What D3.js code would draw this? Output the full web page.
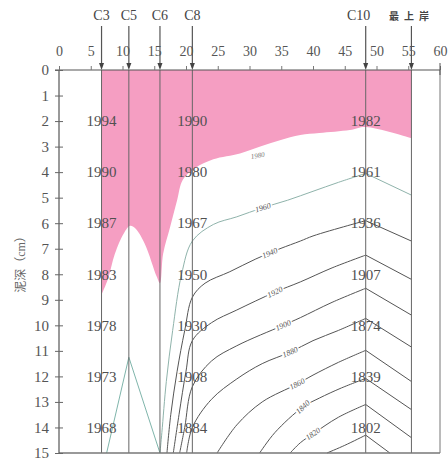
<!DOCTYPE html>
<html>
<head>
<meta charset="utf-8">
<script src="https://cdn.jsdelivr.net/npm/d3@7/dist/d3.min.js"></script>
<style>
  body { margin: 0; background: #fff; }
  text { font-family: "Liberation Serif", "Times New Roman", "Noto Sans CJK SC", serif; }
</style>
</head>
<body>
<div id="chart"></div>
<script>
// distance (top axis) and depth (left axis) ticks
const distTicks = [0, 5, 10, 15, 20, 25, 30, 35, 40, 45, 50, 55, 60];
const depthTicks = [0, 1, 2, 3, 4, 5, 6, 7, 8, 9, 10, 11, 12, 13, 14, 15];

// core sites along the section
const coreNames = ["C3", "C5", "C6", "C8", "C10", "最上岸"];
const corePos = [6.7, 11, 15.9, 21, 48.3, 55.5];

// dated depths in three cores
const dateDepths = [2, 4, 6, 8, 10, 12, 14];
const yearsC3 = [1994, 1990, 1987, 1983, 1978, 1973, 1968];
const yearsC8 = [1990, 1980, 1967, 1950, 1930, 1908, 1884];
const yearsC10 = [1982, 1961, 1936, 1907, 1874, 1839, 1802];

// post-1980 sediment body (boundary, from shore back to C3)
const pinkBoundary = [[55.5, 2.67], [48.3, 2.23], [45.8, 2.35], [41, 2.47], [38, 2.55], [34.8, 2.75],
  [31.7, 3.0], [28.5, 3.27], [24.3, 3.5], [21.4, 3.85], [19.5, 4.3], [18.6, 5.1], [17.5, 6.15],
  [16.4, 7.2], [15.9, 8.35], [15.4, 8.1], [13.5, 6.8], [12, 6.2], [11.2, 6.1], [10.2, 6.4],
  [8.8, 7.2], [7.7, 8.2], [6.7, 8.8]];

// isochrones: left part up to C10, then straight to the shore
const contourYears = [1960, 1940, 1920, 1900, 1880, 1860, 1840, 1820, 1800];
const iso1960 = [[15.9, 15], [16.2, 14.2], [16.9, 12.2], [17.9, 10.2], [19.3, 8.0], [21, 6.7], [24.3, 6.05], [28, 5.75], [32, 5.4], [36, 5.1], [40, 4.75], [44, 4.4], [48.3, 4.05], [55.5, 4.9]];
const iso1940 = [[17.0, 15], [17.6, 13.5], [18.6, 11.8], [19.8, 10.2], [21, 8.9], [23, 8.35], [26.9, 7.9], [31, 7.4], [34.8, 7.0], [38, 6.7], [40, 6.5], [45.4, 6.1], [48.3, 5.9], [55.5, 6.7]];
const iso1920 = [[18.0, 15], [18.9, 13.5], [20, 11.8], [21, 10.6], [24, 9.9], [28, 9.4], [34, 8.7], [38, 8.3], [43, 7.75], [48.3, 7.25], [55.5, 8.2]];
const iso1900 = [[19.0, 15], [19.8, 14], [21, 12.4], [24, 11.4], [28, 10.8], [35.3, 10.0], [38, 9.7], [43, 9.1], [48.3, 8.55], [55.5, 9.6]];
const iso1880 = [[20.1, 15], [21, 14.0], [24, 12.9], [28, 12.1], [32, 11.5], [36.4, 11.05], [40, 10.6], [44, 10.2], [48.3, 9.73], [55.5, 10.85]];
const iso1860 = [[24.9, 15], [28, 13.9], [32, 13.0], [37.5, 12.3], [40, 11.95], [44, 11.45], [48.3, 10.98], [55.5, 12.2]];
const iso1840 = [[31.6, 15], [34, 14.2], [38.4, 13.2], [41, 12.85], [44.5, 12.45], [48.3, 12.08], [55.5, 13.3]];
const iso1820 = [[36.4, 15], [38, 14.6], [40, 14.25], [44, 13.6], [48.3, 13.1], [55.5, 14.4]];
const iso1800 = [[42.2, 15], [45, 14.7], [48.3, 14.3], [52.1, 15]];
const isoLines = [iso1960, iso1940, iso1920, iso1900, iso1880, iso1860, iso1840, iso1820, iso1800];
const isoLabelX = [32.1, 33.2, 34, 35.3, 36.4, 37.5, 38.4, 40, null];

// lines fanning from C5
const c5Lines = [[[11, 11.25], [7.5, 15]], [[11, 11.25], [15.9, 15]]];

const width = 448, height = 464;
const x = d3.scaleLinear().domain([0, 60]).range([59, 440]);
const y = d3.scaleLinear().domain([0, 15]).range([70, 453]);

const svg = d3.select("#chart").append("svg")
  .attr("width", width).attr("height", height);

// pink sediment body
const curve = d3.line().x(d => x(d[0])).y(d => y(d[1])).curve(d3.curveCatmullRom.alpha(0.5));
svg.append("path")
  .attr("d", curve(pinkBoundary) + `L${x(6.7)},${y(0)}L${x(55.5)},${y(0)}Z`)
  .attr("fill", "#f59ec2");

// isochrones
const colors = contourYears.map(yr => yr === 1960 ? "#8fb3ab" : "#555");
isoLines.forEach((pts, i) => {
  const leftPts = pts.filter(p => p[0] <= 48.3);
  const rightPts = pts.filter(p => p[0] >= 48.3);
  const g = svg.append("g").attr("fill", "none").attr("stroke", colors[i]).attr("stroke-width", 1);
  g.append("path").attr("d", curve(leftPts));
  g.append("path").attr("d", d3.line().x(d => x(d[0])).y(d => y(d[1]))(rightPts));
});

c5Lines.forEach(pts => {
  svg.append("path")
    .attr("d", d3.line().x(d => x(d[0])).y(d => y(d[1]))(pts))
    .attr("fill", "none").attr("stroke", "#7fb5ab").attr("stroke-width", 1);
});

// core lines
svg.append("g").selectAll("line").data(corePos).join("line")
  .attr("x1", d => x(d)).attr("x2", d => x(d))
  .attr("y1", y(0)).attr("y2", y(15))
  .attr("stroke", "#666").attr("stroke-width", 1);

// isochrone labels
function depthAt(pts, lx) {
  for (let i = 0; i < pts.length - 1; i++) {
    const a = pts[i], b = pts[i + 1];
    if (lx >= a[0] && lx <= b[0]) {
      const t = (lx - a[0]) / (b[0] - a[0]);
      return { d: a[1] + t * (b[1] - a[1]), ang: Math.atan2(y(b[1]) - y(a[1]), x(b[0]) - x(a[0])) * 180 / Math.PI };
    }
  }
  return null;
}
isoLines.forEach((pts, i) => {
  if (isoLabelX[i] == null) return;
  const p = depthAt(pts, isoLabelX[i]);
  svg.append("text")
    .attr("transform", `translate(${x(isoLabelX[i])},${y(p.d)}) rotate(${p.ang})`)
    .attr("text-anchor", "middle").attr("dy", "0.33em")
    .attr("font-size", 8).attr("font-style", "italic")
    .attr("fill", "#555")
    .attr("stroke", "#fff").attr("stroke-width", 3).attr("paint-order", "stroke")
    .text(contourYears[i]);
});
svg.append("text")
  .attr("transform", `translate(${x(31.3)},${y(3.35)}) rotate(-10)`)
  .attr("text-anchor", "middle").attr("dy", "0.33em")
  .attr("font-size", 7).attr("font-style", "italic").attr("fill", "#777")
  .text(1980);

// dated core labels
[[6.7, yearsC3], [21, yearsC8], [48.3, yearsC10]].forEach(([cx, years]) => {
  svg.append("g").selectAll("text").data(years).join("text")
    .attr("x", x(cx)).attr("y", (d, i) => y(dateDepths[i]))
    .attr("dy", "0.35em").attr("text-anchor", "middle")
    .attr("font-size", 15).attr("fill", "#505050")
    .text(d => d);
});

// frame
svg.append("line").attr("x1", x(0)).attr("x2", x(60)).attr("y1", y(15)).attr("y2", y(15))
  .attr("stroke", "#777").attr("stroke-width", 1.5);
svg.append("line").attr("x1", x(60)).attr("x2", x(60)).attr("y1", y(0)).attr("y2", y(15))
  .attr("stroke", "#777").attr("stroke-width", 1);

// top axis
const topAxis = svg.append("g").attr("transform", `translate(0,${y(0)})`)
  .call(d3.axisTop(x).tickValues(distTicks).tickSize(4).tickPadding(10));
topAxis.select(".domain").attr("stroke", "#555").attr("stroke-width", 1.2).attr("d", `M${x(0) - 4},0H${x(60)}`);
topAxis.selectAll(".tick line").attr("stroke", "#777");
topAxis.selectAll(".tick text").attr("font-size", 14).attr("fill", "#555")
  .attr("font-family", "Liberation Serif, serif");
topAxis.append("line").attr("x1", x(60)).attr("x2", x(60)).attr("y1", -7).attr("y2", 5).attr("stroke", "#555");

// left axis
const leftAxis = svg.append("g").attr("transform", `translate(${x(0)},0)`)
  .call(d3.axisLeft(y).tickValues(depthTicks).tickSize(4).tickPadding(6));
leftAxis.select(".domain").attr("stroke", "#555").attr("stroke-width", 1.2).attr("d", `M0,${y(0)}V${y(15)}`);
leftAxis.selectAll(".tick line").attr("stroke", "#666").attr("x2", -4).attr("x1", 4);
leftAxis.selectAll(".tick text").attr("font-size", 15).attr("fill", "#555")
  .attr("font-family", "Liberation Serif, serif");

svg.append("text")
  .attr("transform", `translate(21,${y(7.5)}) rotate(-90)`)
  .attr("text-anchor", "middle").attr("dy", "0.35em")
  .attr("font-size", 12).attr("fill", "#666")
  .attr("font-family", "Noto Sans CJK SC, sans-serif")
  .text("泥深（cm）");

// core arrows and names
const arrows = svg.append("g");
corePos.forEach((p, i) => {
  arrows.append("line").attr("x1", x(p)).attr("x2", x(p)).attr("y1", 26).attr("y2", y(0) - 4)
    .attr("stroke", "#555").attr("stroke-width", 1.2);
  arrows.append("path")
    .attr("d", `M${x(p) - 2.5},${y(0) - 7}L${x(p) + 2.5},${y(0) - 7}L${x(p)},${y(0)}Z`)
    .attr("fill", "#444");
  const cjk = i === coreNames.length - 1;
  arrows.append("text")
    .attr("x", x(p) + (coreNames[i] === "C10" ? -7 : 0)).attr("y", 20)
    .attr("text-anchor", "middle")
    .attr("font-size", cjk ? 10 : 14)
    .attr("font-weight", cjk ? "bold" : "normal")
    .attr("letter-spacing", cjk ? 5 : 0)
    .attr("font-family", cjk ? "Noto Sans CJK SC, sans-serif" : "Liberation Serif, serif")
    .attr("fill", "#444")
    .text(coreNames[i]);
});
</script>
</body>
</html>
